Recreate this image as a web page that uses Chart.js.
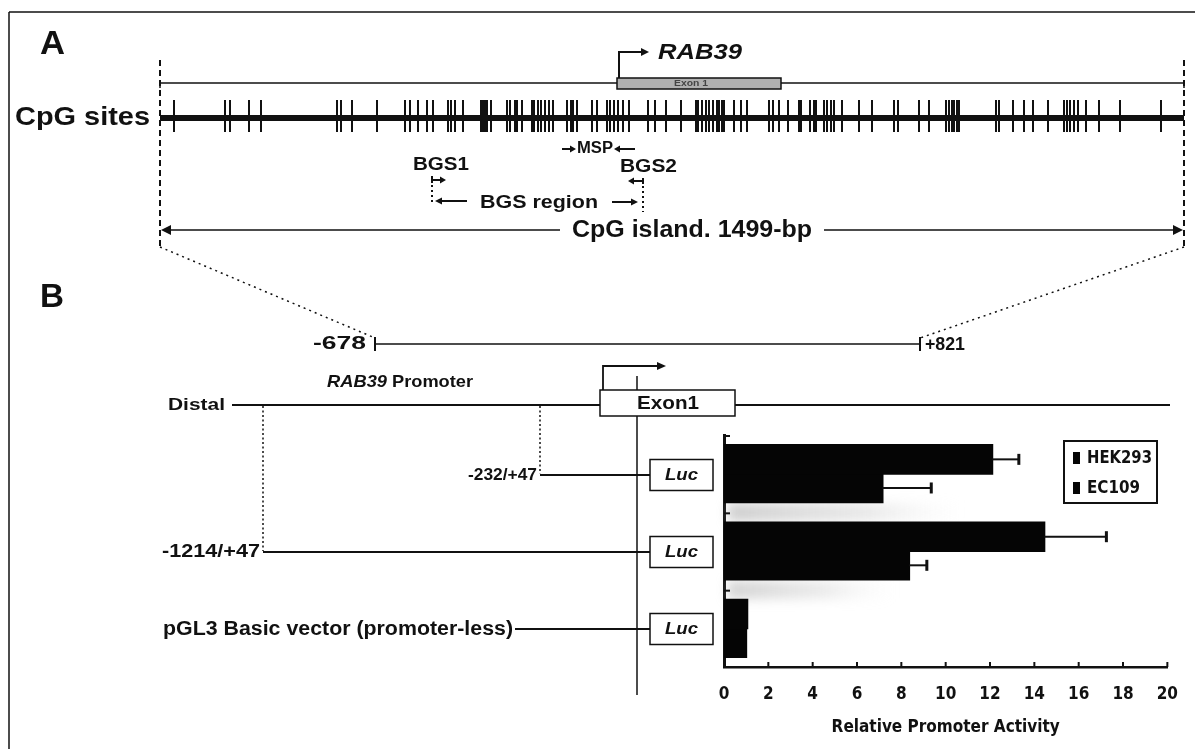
<!DOCTYPE html>
<html><head><meta charset="utf-8">
<script src="https://cdn.jsdelivr.net/npm/chart.js@4.4.1/dist/chart.umd.min.js"></script>
<style>html,body{margin:0;padding:0;background:#fff;overflow:hidden}canvas{display:block}</style>
</head><body>
<canvas id="c" width="1195" height="749"></canvas>
<script>
// ---------------- data ----------------
const constructs = ['-232/+47', '-1214/+47', 'pGL3 Basic vector (promoter-less)'];
const seriesNames = ['HEK293', 'EC109'];
const hek293 = [12.1, 14.45, 1.05];
const hek293Err = [1.2, 2.8, 0];
const ec109 = [7.15, 8.35, 1.0];
const ec109Err = [2.2, 0.8, 0];
const activityTicks = [0, 2, 4, 6, 8, 10, 12, 14, 16, 18, 20];
const axisTitle = 'Relative Promoter Activity';
// CpG island (bp from island start; island = -678..+821 around TSS)
const cpgIslandLength = 1499;
const islandStartLabel = '-678';
const islandEndLabel = '+821';
const cpgSitesBp = [21, 95, 103, 130, 148, 259, 265, 281, 318, 359, 366, 377, 391, 400, 421, 426, 432, 444,
  470, 473, 476, 479, 484, 508, 513, 519, 523, 530, 544, 548, 554, 558, 564, 569, 576, 596, 601, 605, 610,
  633, 640, 655, 659, 665, 671, 678, 686, 715, 724, 740, 762, 784, 788, 794, 799, 803, 809, 816, 819, 822,
  825, 840, 850, 860, 891, 898, 906, 920, 935, 938, 952, 957, 961, 972, 977, 982, 986, 999, 1023, 1043,
  1074, 1081, 1111, 1125, 1150, 1155, 1159, 1162, 1166, 1169, 1224, 1228, 1248, 1265, 1278, 1300, 1323,
  1328, 1332, 1338, 1344, 1355, 1374, 1405, 1465];

// ---------------- helpers ----------------
const SANS = '"Liberation Sans", Arial, sans-serif';
const COND = '"DejaVu Sans Condensed", "Liberation Sans Narrow", "DejaVu Sans", sans-serif';
const INK = '#111';

function fitText(ctx, txt, x, y, size, style, width, align, family, color) {
  ctx.save();
  ctx.font = `${style} ${size}px ${family || SANS}`;
  ctx.textBaseline = 'middle';
  ctx.textAlign = 'left';
  ctx.fillStyle = color || INK;
  const w = ctx.measureText(txt).width;
  const s = width ? width / w : 1;
  const tw = w * s;
  const left = align === 'center' ? x - tw / 2 : align === 'right' ? x - tw : x;
  ctx.translate(left, y);
  ctx.scale(s, 1);
  ctx.fillText(txt, 0, 0);
  ctx.restore();
}
function line(ctx, x1, y1, x2, y2, w, dash) {
  ctx.save();
  ctx.strokeStyle = INK; ctx.lineWidth = w || 1.5;
  if (dash) ctx.setLineDash(dash);
  ctx.beginPath(); ctx.moveTo(x1, y1); ctx.lineTo(x2, y2); ctx.stroke();
  ctx.restore();
}
function poly(ctx, pts, w) {
  ctx.save();
  ctx.strokeStyle = INK; ctx.lineWidth = w || 1.5;
  ctx.beginPath(); ctx.moveTo(pts[0][0], pts[0][1]);
  for (let i = 1; i < pts.length; i++) ctx.lineTo(pts[i][0], pts[i][1]);
  ctx.stroke(); ctx.restore();
}
function head(ctx, x, y, dir, len, hw) {
  ctx.save(); ctx.fillStyle = INK;
  ctx.beginPath(); ctx.moveTo(x, y); ctx.lineTo(x - dir * len, y - hw); ctx.lineTo(x - dir * len, y + hw);
  ctx.closePath(); ctx.fill(); ctx.restore();
}
function arrow(ctx, x1, y, x2, w, len, hw) {
  const dir = x2 > x1 ? 1 : -1;
  line(ctx, x1, y, x2 - dir * (len - 1), y, w);
  head(ctx, x2, y, dir, len, hw);
}

// island mapping (panel A)
const A_LEFT = 160, A_RIGHT = 1184;
const xA = bp => A_LEFT + bp * (A_RIGHT - A_LEFT) / cpgIslandLength;

function drawDiagram(ctx, chart) {
  const yS = chart.scales.y;
  // frame
  line(ctx, 9, 12, 1195, 12, 1.5);
  line(ctx, 9, 12, 9, 749, 1.5);

  // ---------- Panel A ----------
  fitText(ctx, 'A', 40, 45, 33, 'bold', 25, 'left');
  line(ctx, A_LEFT, 83, 617, 83, 1.5);
  line(ctx, 781, 83, A_RIGHT, 83, 1.5);
  line(ctx, A_LEFT, 82.5, A_LEFT, 88, 1.5);
  line(ctx, A_RIGHT, 82.5, A_RIGHT, 88, 1.5);
  ctx.save();
  ctx.fillStyle = '#b0b0b0'; ctx.fillRect(617, 78, 164, 11);
  ctx.strokeStyle = INK; ctx.lineWidth = 1.5; ctx.strokeRect(617, 78, 164, 11);
  ctx.restore();
  fitText(ctx, 'Exon 1', 691, 83.5, 9, 'bold', 34, 'center', SANS, '#444');
  poly(ctx, [[619, 78], [619, 52], [642, 52]], 2);
  head(ctx, 649, 52, 1, 8, 4);
  fitText(ctx, 'RAB39', 658, 53, 22, 'italic bold', 84, 'left');

  fitText(ctx, 'CpG sites', 15, 118, 26, 'bold', 135, 'left');
  line(ctx, A_LEFT, 118, A_RIGHT, 118, 6);
  for (const bp of cpgSitesBp) {
    const x = Math.round(xA(bp));
    line(ctx, x, 100, x, 132, 2);
  }

  line(ctx, A_LEFT, 60, A_LEFT, 246, 2, [6, 4]);
  line(ctx, A_RIGHT, 60, A_RIGHT, 246, 2, [6, 4]);

  arrow(ctx, 562, 149, 576, 2, 6, 3.5);
  fitText(ctx, 'MSP', 577, 149, 16, 'bold', 36, 'left');
  arrow(ctx, 635, 149, 614, 2, 6, 3.5);
  fitText(ctx, 'BGS1', 413, 165, 18, 'bold', 56, 'left');
  fitText(ctx, 'BGS2', 620, 167, 18, 'bold', 57, 'left');
  line(ctx, 432, 176, 432, 183, 2);
  arrow(ctx, 432, 180, 446, 2, 6, 3.5);
  line(ctx, 643, 178, 643, 184, 2);
  arrow(ctx, 643, 181, 628, 2, 6, 3.5);
  line(ctx, 432, 185, 432, 205, 2, [2, 3]);
  line(ctx, 643, 186, 643, 212, 2, [2, 3]);
  arrow(ctx, 467, 201, 435, 2, 7, 3.5);
  fitText(ctx, 'BGS region', 480, 203, 18, 'bold', 118, 'left');
  arrow(ctx, 612, 202, 638, 2, 7, 3.5);

  line(ctx, A_LEFT + 8, 230, 560, 230, 1.5);
  head(ctx, A_LEFT + 1, 230, -1, 10, 5);
  line(ctx, 824, 230, A_RIGHT - 8, 230, 1.5);
  head(ctx, A_RIGHT - 1, 230, 1, 10, 5);
  fitText(ctx, 'CpG island. ' + cpgIslandLength + '-bp', 572, 231, 23, 'bold', 240, 'left');

  line(ctx, A_LEFT, 247, 375, 338, 1.5, [2, 4]);
  line(ctx, A_RIGHT, 247, 920, 338, 1.5, [2, 4]);

  // ---------- Panel B ----------
  fitText(ctx, 'B', 40, 298, 33, 'bold', 24, 'left');
  fitText(ctx, islandStartLabel, 313, 344, 18, 'bold', 53, 'left');
  line(ctx, 375, 344, 920, 344, 1.5);
  line(ctx, 375, 337, 375, 351, 2);
  line(ctx, 920, 337, 920, 351, 2);
  fitText(ctx, islandEndLabel, 925, 345, 18, 'bold', 40, 'left');

  fitText(ctx, 'Distal', 168, 405, 17, 'bold', 57, 'left');
  line(ctx, 232, 405, 600, 405, 2);
  line(ctx, 735, 405, 1170, 405, 2);
  ctx.save(); ctx.fillStyle = '#fff'; ctx.fillRect(600, 390, 135, 26);
  ctx.strokeStyle = INK; ctx.lineWidth = 1.5; ctx.strokeRect(600, 390, 135, 26); ctx.restore();
  fitText(ctx, 'Exon1', 668, 404, 18, 'bold', 62, 'center');
  fitText(ctx, 'RAB39', 327, 382, 17, 'italic bold', 60, 'left');
  fitText(ctx, 'Promoter', 392, 382, 17, 'bold', 81, 'left');
  poly(ctx, [[603, 390], [603, 366], [658, 366]], 1.8);
  head(ctx, 666, 366, 1, 9, 4);
  line(ctx, 637, 376, 637, 390, 1.5);
  line(ctx, 637, 416, 637, 695, 1.5);

  const labelSpec = [
    {right: 537, width: 69, size: 17, start: 540},
    {right: 260, width: 98, size: 18, start: 263},
    {right: 513, width: 350, size: 20, start: 515}
  ];
  const yc = constructs.map((c, i) => yS.getPixelForValue(i));
  line(ctx, 263, 406, 263, yc[1], 1.5, [2, 2.5]);
  line(ctx, 540, 406, 540, yc[0], 1.5, [2, 2.5]);
  constructs.forEach((name, i) => {
    const y = Math.round(yc[i]) + 1;
    const sp = labelSpec[i];
    fitText(ctx, name, sp.right, y, sp.size, 'bold', sp.width, 'right');
    line(ctx, sp.start, y, 650, y, 1.8);
    ctx.save(); ctx.fillStyle = '#fff'; ctx.fillRect(650, y - 15.5, 63, 31);
    ctx.strokeStyle = INK; ctx.lineWidth = 1.5; ctx.strokeRect(650, y - 15.5, 63, 31); ctx.restore();
    fitText(ctx, 'Luc', 681.5, y, 17, 'italic bold', 33, 'center');
  });
}

const diagramPlugin = {
  id: 'diagram',
  beforeDraw(chart) {
    const ctx = chart.ctx;
    ctx.save();
    ctx.fillStyle = '#fff'; ctx.fillRect(0, 0, chart.width, chart.height);
    drawDiagram(ctx, chart);
    ctx.restore();
  },
  beforeDatasetsDraw(chart) {
    const ctx = chart.ctx, y = chart.scales.y;
    const left = chart.chartArea.left;
    ctx.save();
    ctx.filter = 'blur(6px)';
    [[0.5, 240, 0.5], [1.5, 170, 0.45]].forEach(([v, len, a]) => {
      const yy = y.getPixelForValue(v);
      const g = ctx.createLinearGradient(left, 0, left + len, 0);
      g.addColorStop(0, `rgba(150,150,150,${a})`);
      g.addColorStop(0.6, `rgba(180,180,180,${a * 0.6})`);
      g.addColorStop(1, 'rgba(230,230,230,0)');
      ctx.fillStyle = g;
      ctx.fillRect(left + 4, yy - 9, len, 18);
    });
    ctx.restore();
  },
  afterDatasetsDraw(chart) {
    const ctx = chart.ctx, xs = chart.scales.x, ys = chart.scales.y;
    const errs = [hek293Err, ec109Err];
    chart.data.datasets.forEach((ds, di) => {
      const meta = chart.getDatasetMeta(di);
      meta.data.forEach((bar, i) => {
        const e = errs[di][i];
        if (!e) return;
        const xe = xs.getPixelForValue(ds.data[i] + e);
        line(ctx, bar.x, bar.y, xe, bar.y, 2);
        line(ctx, xe, bar.y - 5.5, xe, bar.y + 5.5, 3);
      });
    });
    const bottom = chart.chartArea.bottom, left = chart.chartArea.left;
    activityTicks.forEach(v => {
      const x = xs.getPixelForValue(v);
      line(ctx, x, bottom, x, bottom - 5, 2);
    });
    for (let k = 0; k < constructs.length; k++) {
      const y = ys.getPixelForValue(k - 0.5);
      line(ctx, left, y + 1, left + 6, y + 1, 2);
    }
    ctx.save();
    ctx.strokeStyle = INK; ctx.lineWidth = 2;
    ctx.strokeRect(1064, 441, 93, 62);
    ctx.restore();
    const ly = [458, 488], lw = [65, 53];
    chart.data.datasets.forEach((ds, di) => {
      ctx.save(); ctx.fillStyle = ds.backgroundColor;
      ctx.fillRect(1073, ly[di] - 6, 7, 12); ctx.restore();
      fitText(ctx, ds.label, 1087, ly[di], 18, 'bold', lw[di], 'left', COND);
    });
  }
};

new Chart(document.getElementById('c'), {
  type: 'bar',
  data: {
    labels: constructs,
    datasets: [
      {label: seriesNames[0], data: hek293, backgroundColor: '#050505', borderWidth: 0, inflateAmount: 1},
      {label: seriesNames[1], data: ec109, backgroundColor: '#050505', borderWidth: 0, inflateAmount: 1}
    ]
  },
  options: {
    indexAxis: 'y',
    responsive: false,
    animation: false,
    devicePixelRatio: 1,
    datasets: {bar: {barPercentage: 1, categoryPercentage: 0.74}},
    layout: {padding: {left: 724, right: 23, top: 435, bottom: 0}},
    plugins: {legend: {display: false}, tooltip: {enabled: false}},
    scales: {
      x: {
        type: 'linear', min: activityTicks[0], max: activityTicks[activityTicks.length - 1],
        afterBuildTicks: s => { s.ticks = activityTicks.map(v => ({value: v})); },
        afterFit: s => { s.height = 82; },
        grid: {display: false, drawTicks: false},
        border: {display: true, color: INK, width: 2.5},
        ticks: {color: INK, padding: 17, font: {family: COND, size: 17, weight: 'bold'}},
        title: {display: true, text: axisTitle, color: INK, padding: {top: 0, bottom: 11},
                font: {family: COND, size: 17, weight: 'bold'}}
      },
      y: {
        type: 'category',
        afterFit: s => { s.width = 0; },
        grid: {display: false, drawTicks: false},
        border: {display: true, color: INK, width: 3},
        ticks: {display: false}
      }
    }
  },
  plugins: [diagramPlugin]
});
</script>
</body></html>
